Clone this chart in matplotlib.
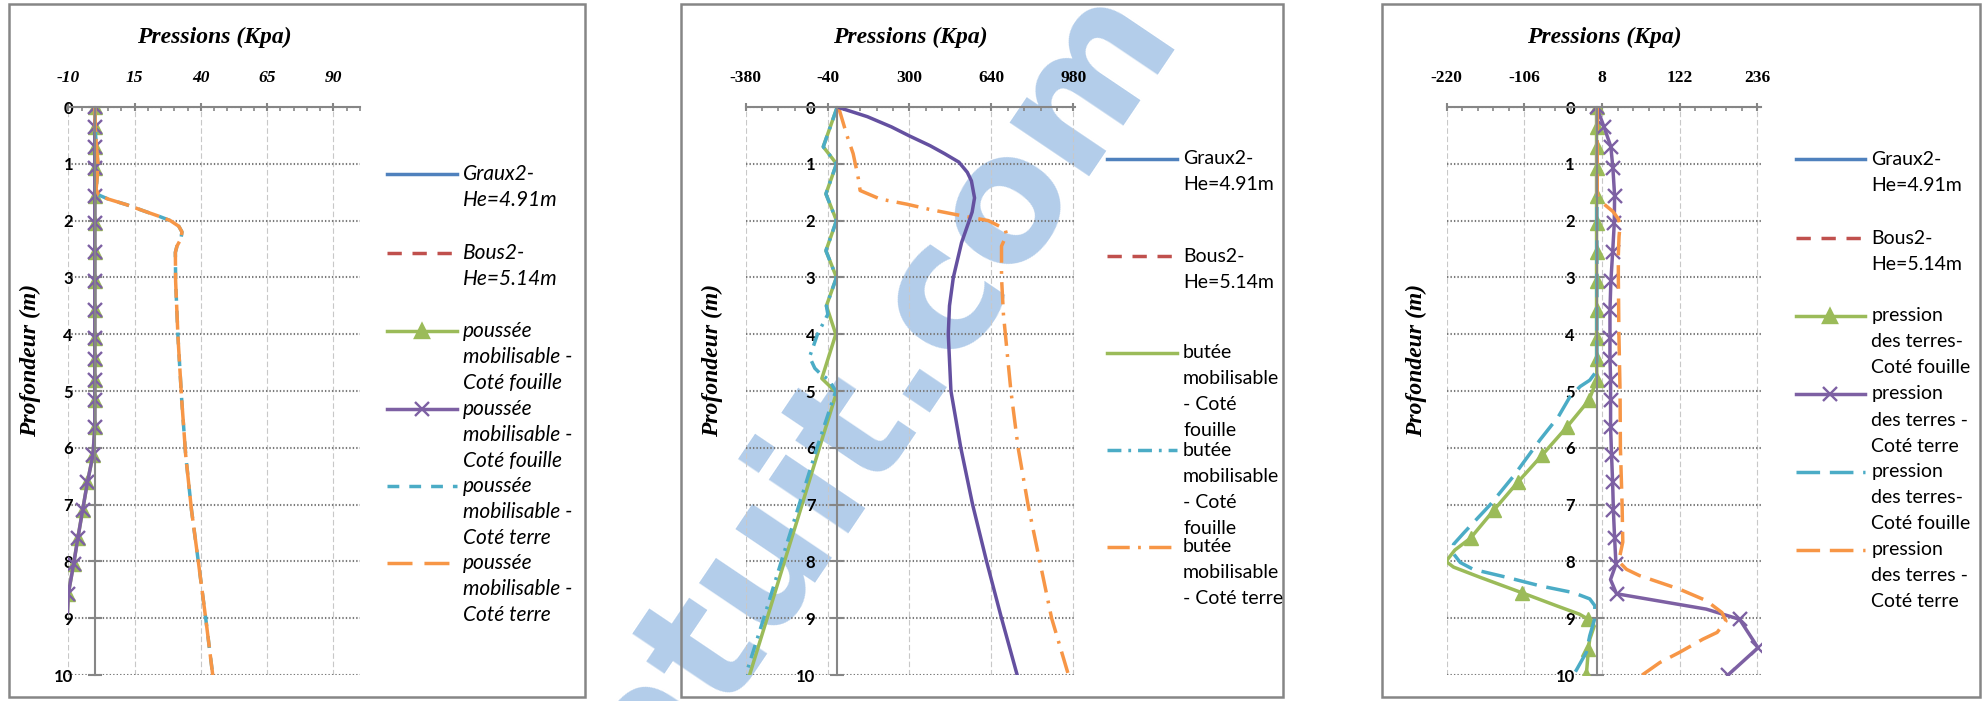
import matplotlib
matplotlib.use('Agg')
import matplotlib.pyplot as plt
from matplotlib.patches import Rectangle
import numpy as np

plt.rcParams['lines.scale_dashes'] = False
plt.rcParams['axes.unicode_minus'] = False

W, H = 1986, 701
BLUE = '#4F81BD'
RED = '#C0504D'
GREEN = '#9BBB59'
PURPLE = '#7D60A3'
CYAN = '#4BACC6'
ORANGE = '#F79646'
GRAY = '#868686'

# ---- panel 1 : poussée mobilisable ----
p1_depth = [0, 0.35, 0.7, 1.08, 1.56, 2.05, 2.56, 3.07, 3.57, 4.06, 4.43, 4.8,
            5.16, 5.64, 6.13, 6.61, 7.1, 7.59, 8.05, 8.57, 8.9]
p1_fouille = [0, 0, 0, 0, 0, 0, 0, 0, 0, 0, 0, 0,
              0, 0, -0.7, -2.8, -4.6, -6.4, -8.0, -10.0, -10.3]
p1_terre_depth = [0, 0.5, 1.0, 1.3, 1.45, 1.55, 1.62, 1.72, 1.83, 1.92, 2.0, 2.1,
                  2.2, 2.32, 2.45, 2.56, 3.07, 4.06, 5.16, 6.13, 7.1, 8.05, 9.02, 10.0]
p1_terre = [0, 0.3, 1.2, 0.8, 0.5, 1.5, 5, 12, 18.5, 24, 28.5, 31.7,
            32.9, 32.5, 31, 30.4, 30.5, 31.4, 32.8, 34.3, 36.5, 39.2, 41.9, 44.5]

# ---- panel 2 : butée mobilisable ----
p2_fouille_depth = [0, 0.7, 1.0, 1.53, 2.0, 2.53, 3.0, 3.5, 4.0, 4.78, 5.03,
                    6.0, 7.0, 8.0, 9.0, 10.0]
p2_fouille = [0, -58, -3, -47, -3, -47, -3, -45, -6, -64, -3,
              -74, -146, -219, -291, -364]
p2_fouille2_depth = [0, 0.7, 1.0, 1.53, 2.0, 2.53, 3.0, 3.5, 3.65, 4.0, 4.2, 4.4,
                     4.6, 4.7, 4.8, 5.0, 6.0, 7.0, 8.0, 9.0, 10.0]
p2_fouille2 = [0, -58, -3, -47, -3, -47, -3, -45, -39, -82, -98, -115,
               -93, -69, -36, -6, -84, -158, -232, -305, -380]
p2_terre_depth = [0, 0.51, 0.82, 1.14, 1.27, 1.47, 1.62, 1.71, 1.8, 1.92, 2.0,
                  2.15, 2.25, 2.45, 3.0, 3.65, 4.0, 5.0, 6.0, 7.0, 8.0, 9.0, 10.0]
p2_terre = [5, 41, 66, 82, 88, 95, 178, 288, 380, 524, 627,
            697, 703, 682, 682, 690, 698, 721, 751, 792, 841, 890, 960]
p2_other_depth = [0, 0.17, 0.35, 0.51, 0.68, 0.82, 0.97, 1.15, 1.3, 1.6, 1.85,
                  2.0, 2.39, 3.0, 3.5, 4.0, 5.0, 6.0, 7.0, 8.0, 9.0, 10.0]
p2_other = [0, 125, 225, 300, 385, 445, 505, 540, 557, 570, 560,
            548, 516, 482, 466, 461, 472, 513, 562, 620, 682, 747]

# ---- panel 3 : pression des terres ----
p3_fouille_depth = [0, 0.35, 0.7, 1.08, 1.56, 2.05, 2.56, 3.07, 3.57, 4.06, 4.43, 4.8,
                    5.16, 5.64, 6.13, 6.61, 7.1, 7.59, 7.8, 8.0, 8.1, 8.28, 8.55,
                    8.78, 8.93, 9.02, 9.16, 9.37, 9.55, 10.0]
p3_fouille = [0, 0, 0, 0, 0, 0, 0, 0, 0, 0, 0, 0.5,
              -11, -44, -80, -116, -151, -185, -208, -221, -210, -171, -110,
              -59, -25, -12, -4, -10, -12, -15]
p3_fouille_marks = list(range(18)) + [22, 25, 28, 29]
p3_terre_depth = [0, 0.35, 0.7, 1.08, 1.56, 2.05, 2.56, 3.07, 3.57, 4.06, 4.43, 4.8,
                  5.16, 5.64, 6.13, 6.61, 7.1, 7.59, 8.05, 8.32, 8.57, 8.69, 8.84,
                  9.02, 9.52, 10.0]
p3_terre = [0, 11, 21, 24, 26.5, 26, 23.6, 21, 19.7, 19.7, 19.7, 20.6,
            20.6, 20.6, 22, 23.6, 24.7, 26.5, 28.5, 20.5, 29.3, 88, 161,
            210, 237, 193]
p3_terre_marks = [i for i in range(26) if i not in (19, 21, 22)]
p3_fouille2_depth = [0, 1.0, 2.0, 3.0, 4.0, 4.46, 4.69, 4.81, 4.92, 5.1, 5.45, 5.86,
                     6.5, 7.0, 7.5, 7.7, 7.85, 8.02, 8.14, 8.28, 8.43, 8.55, 8.66,
                     8.78, 9.02, 9.31, 9.6, 9.9, 10.0]
p3_fouille2 = [0.5, 0.5, 0.5, 0.5, 0.5, 0.5, -2.5, -10, -24, -39, -56, -83,
               -122, -156, -195, -210, -211, -200, -181, -132, -83, -34, -10,
               -2.5, -3, -10, -15, -29, -34]
p3_terre2_depth = [0, 0.5, 1.0, 1.55, 1.7, 1.84, 1.97, 2.09, 2.28, 2.6, 3.0, 4.0,
                   5.0, 6.0, 7.0, 7.66, 8.0, 8.14, 8.25, 8.49, 8.69, 8.9, 9.05,
                   9.25, 9.37, 9.6, 9.78, 10.0]
p3_terre2 = [1, 1, 1, 1, 10, 24, 32, 34.5, 33, 32, 32, 32.8,
             34.5, 35, 37.5, 38.5, 32.5, 44, 63, 122, 161, 184, 190,
             177, 156, 122, 93, 67]

fig = plt.figure(figsize=(W / 100, H / 100), dpi=100)
fig.patch.set_facecolor('white')

# watermark behind the charts
fig.text(0.4421, 0.4408, 'atuit.com', rotation=56, rotation_mode='anchor',
         ha='center', va='center', fontsize=125, fontweight='bold',
         family='DejaVu Sans', color='#B3CDEA', zorder=-1)


def make_axes(x0, x1, xmin, xmax, major, italic, ylab_x):
    ax = fig.add_axes([x0 / W, 1 - 675 / H, (x1 - x0) / W, 568 / H])
    ax.set_facecolor('none')
    ax.set_xlim(xmin, xmax)
    ax.set_ylim(10, 0)
    ax.spines['right'].set_visible(False)
    ax.spines['bottom'].set_visible(False)
    ax.spines['left'].set_position(('data', 0))
    for s in ['top', 'left']:
        ax.spines[s].set_color(GRAY)
        ax.spines[s].set_linewidth(1.5)
    ax.xaxis.tick_top()
    ticks = np.arange(xmin, xmax + 1, major)
    ax.set_xticks(ticks)
    ax.set_xticks(np.arange(xmin, xmax + 1, major / 5), minor=True)
    ax.set_xticklabels([str(int(round(t))) for t in ticks])
    ax.set_yticks(range(11))
    ax.tick_params(axis='x', which='major', direction='inout', length=6.3,
                   width=1.5, color=GRAY, pad=12)
    ax.tick_params(axis='x', which='minor', direction='in', length=3,
                   width=1.2, color=GRAY)
    ax.tick_params(axis='y', direction='inout', length=9.4, width=1.5,
                   color=GRAY, pad=11)
    for t in ax.get_xticklabels():
        t.set(family='Liberation Serif', weight='bold',
              style='italic' if italic else 'normal', size=12.5)
    for t in ax.get_yticklabels():
        t.set(family='Lato', weight='bold', size=12)
    ax.grid(axis='x', color='#C8C8C8', ls=(0, (4, 2)), lw=0.8)
    ax.grid(axis='y', color='#7A7A7A', ls=(0, (1, 1.5)), lw=1.5)
    ax.set_axisbelow(True)
    ax.text(0.5, 1.1232, 'Pressions (Kpa)', transform=ax.transAxes,
            ha='center', va='center', family='Liberation Serif',
            weight='bold', style='italic', size=17)
    ax.text(ylab_x, 0.5546, 'Profondeur (m)', transform=ax.transAxes,
            rotation=90, ha='center', va='center', family='Liberation Serif',
            weight='bold', style='italic', size=17)
    return ax


LW = 2.5
ax1 = make_axes(68.3, 359.8, -10, 100, 25, True, -0.131)
ax1.plot(p1_fouille, p1_depth, color=GREEN, lw=LW, marker='^', ms=10.5,
         markevery=list(range(20)))
ax1.plot(p1_fouille, p1_depth, color=PURPLE, lw=LW, marker='x', ms=10.5, mew=1.7,
         markevery=list(range(20)))
ax1.plot(p1_terre, p1_terre_depth, color=CYAN, lw=LW, dashes=(8.5, 7.2))
ax1.plot(p1_terre, p1_terre_depth, color=ORANGE, lw=LW, dashes=(18, 5))

ax2 = make_axes(745.7, 1074.5, -380, 985, 340, False, -0.1025)
ax2.plot(p2_fouille, p2_fouille_depth, color=GREEN, lw=LW)
ax2.plot(p2_fouille2, p2_fouille2_depth, color=CYAN, lw=LW, dashes=(10, 5, 2, 5))
ax2.plot(p2_terre, p2_terre_depth, color=ORANGE, lw=LW, dashes=(16, 6, 2, 6))
ax2.plot(p2_other, p2_other_depth, color='#6450A0', lw=LW)

ax3 = make_axes(1446.7, 1761.4, -220, 242, 114, False, -0.095)
ax3.plot(p3_fouille, p3_fouille_depth, color=GREEN, lw=LW, marker='^', ms=10.5,
         markevery=p3_fouille_marks)
ax3.plot(p3_terre, p3_terre_depth, color=PURPLE, lw=LW, marker='x', ms=10.5, mew=1.7,
         markevery=p3_terre_marks)
ax3.plot(p3_fouille2, p3_fouille2_depth, color=CYAN, lw=LW, dashes=(17, 7))
ax3.plot(p3_terre2, p3_terre2_depth, color=ORANGE, lw=LW, dashes=(17, 7))

# overlay in pixel units for the frames and legends
ov = fig.add_axes([0, 0, 1, 1], zorder=10)
ov.set_xlim(0, W)
ov.set_ylim(H, 0)
ov.axis('off')

for x0, x1 in [(9, 585), (681, 1283), (1382, 1980)]:
    ov.add_patch(Rectangle((x0, 4), x1 - x0, 693, fill=False,
                           edgecolor=GRAY, lw=1.8))


def legend(x0, x1, xt, ys, entries, italic, size):
    for y, (label, style) in zip(ys, entries):
        st = dict(style)
        marker = st.pop('marker', None)
        ov.plot([x0, x1], [y, y], lw=LW, **st)
        if marker:
            ov.plot([(x0 + x1) / 2], [y], marker=marker, ms=10.5, mew=1.7,
                    color=st['color'], ls='none')
        for i, line in enumerate(label.split('\n')):
            ov.text(xt, y + i * 26, line, va='center', ha='left',
                    family='Lato', size=size,
                    style='italic' if italic else 'normal')


base = [('Graux2-\nHe=4.91m', dict(color=BLUE)),
        ('Bous2-\nHe=5.14m', dict(color=RED, dashes=(10.3, 7.7)))]

legend(386.7, 457.3, 463.3, [174.3, 252.7, 330.7, 409, 485.7, 563], base + [
    ('poussée\nmobilisable -\nCoté fouille', dict(color=GREEN, marker='^')),
    ('poussée\nmobilisable -\nCoté fouille', dict(color=PURPLE, marker='x')),
    ('poussée\nmobilisable -\nCoté terre', dict(color=CYAN, dashes=(8.5, 7.2))),
    ('poussée\nmobilisable -\nCoté terre', dict(color=ORANGE, dashes=(18, 8.6))),
], True, 15)

legend(1106.8, 1177, 1183, [159, 256, 353, 450, 546.6], base + [
    ('butée\nmobilisable\n- Coté\nfouille', dict(color=GREEN)),
    ('butée\nmobilisable\n- Coté\nfouille', dict(color=CYAN, dashes=(10, 5, 2, 5))),
    ('butée\nmobilisable\n- Coté terre', dict(color=ORANGE, dashes=(16, 6, 2, 6))),
], False, 14)

legend(1795.7, 1865, 1871.4, [159.3, 238, 315.9, 394, 471.5, 549.8], base + [
    ('pression\ndes terres-\nCoté fouille', dict(color=GREEN, marker='^')),
    ('pression\ndes terres -\nCoté terre', dict(color=PURPLE, marker='x')),
    ('pression\ndes terres-\nCoté fouille', dict(color=CYAN, dashes=(17, 7))),
    ('pression\ndes terres -\nCoté terre', dict(color=ORANGE, dashes=(17, 7))),
], False, 14)

fig.savefig('out.png', dpi=100, facecolor='white')
